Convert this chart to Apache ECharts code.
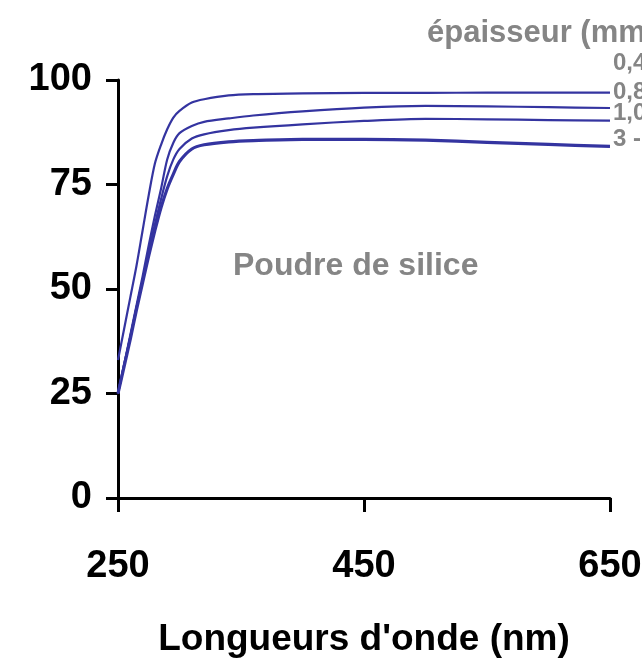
<!DOCTYPE html>
<html>
<head>
<meta charset="utf-8">
<script src="https://cdn.jsdelivr.net/npm/echarts@6/dist/echarts.min.js"></script>
<style>
  html, body { margin: 0; padding: 0; background: #fff; }
  #chart { width: 642px; height: 658px; }
</style>
</head>
<body>
<div id="chart"></div>
<script>
  // longueurs d'onde (nm)
  const wavelengths = [250, 255, 260, 265, 270, 275, 280, 285, 290, 295, 300, 310, 320, 340, 360, 400, 450, 500, 550, 600, 650];

  // réflectance (%) par épaisseur
  const ep04 = [33, 40.5, 48, 55.5, 64, 72.5, 80, 84.5, 88.2, 91, 92.6, 94.6, 95.4, 96.3, 96.6, 96.8, 96.9, 96.9, 97.0, 97.0, 97.0];
  const ep08 = [25, 32, 39, 46, 53, 60.5, 67.5, 74, 81, 85, 87.3, 89, 90, 90.8, 91.5, 92.5, 93.4, 93.8, 93.7, 93.5, 93.3];
  const ep10 = [25, 32, 38.5, 45.5, 52, 59, 65.5, 71.5, 77, 81, 83.5, 86, 87, 88, 88.6, 89.4, 90.2, 90.7, 90.6, 90.4, 90.3];
  const ep3 = [25, 31.5, 38, 45, 51.5, 58, 64, 69.5, 74, 77.5, 80.5, 83.5, 84.5, 85.2, 85.5, 85.8, 85.8, 85.6, 85.1, 84.6, 84.1];

  const seriesNames = ["0,4", "0,8", "1,0", "3 - 5"];
  const xTicks = [250, 450, 650];
  const yTicks = [0, 25, 50, 75, 100];

  const legendTitle = "épaisseur (mm)";
  const noteText = "Poudre de silice";
  const xTitle = "Longueurs d'onde (nm)";

  const lineColor = "#3434a0";
  const gray = "#858585";

  function pairs(values) {
    return wavelengths.map((w, i) => [w, values[i]]);
  }

  function lineSeries(name, values, width) {
    return {
      name: name,
      type: "line",
      data: pairs(values),
      smooth: 0.3,
      symbol: "none",
      lineStyle: { color: lineColor, width: width, join: "round" },
      z: 3,
    };
  }

  const chart = echarts.init(document.getElementById("chart"));

  chart.setOption({
    backgroundColor: "#fff",
    animation: false,
    grid: { left: 118, right: 32, top: 80, bottom: 160, outerBoundsMode: "none", containLabel: false },
    xAxis: {
      type: "value",
      min: 250,
      max: 650,
      interval: 200,
      name: xTitle,
      nameLocation: "middle",
      nameGap: 123,
      nameTextStyle: {
        fontFamily: "Liberation Sans, Arial, sans-serif",
        fontWeight: "bold",
        fontSize: 37,
        color: "#000",
      },
      axisLine: { lineStyle: { color: "#000", width: 3 } },
      axisTick: { length: 14, lineStyle: { color: "#000", width: 3 } },
      axisLabel: {
        margin: 50,
        fontFamily: "Liberation Sans, Arial, sans-serif",
        fontWeight: "bold",
        fontSize: 38,
        color: "#000",
        formatter: (v) => (xTicks.includes(v) ? String(v) : ""),
      },
      splitLine: { show: false },
    },
    yAxis: {
      type: "value",
      min: 0,
      max: 100,
      interval: 25,
      axisLine: { show: true, lineStyle: { color: "#000", width: 3 } },
      axisTick: { show: true, length: 12, lineStyle: { color: "#000", width: 3 } },
      axisLabel: {
        margin: 26,
        fontFamily: "Liberation Sans, Arial, sans-serif",
        fontWeight: "bold",
        fontSize: 38,
        color: "#000",
        formatter: (v) => (yTicks.includes(v) ? String(v) : ""),
      },
      splitLine: { show: false },
    },
    graphic: [
      {
        type: "text",
        left: 427,
        top: 18,
        style: {
          text: legendTitle,
          font: "bold 31px 'Liberation Sans', Arial, sans-serif",
          fill: gray,
        },
      },
      {
        type: "text",
        left: 233,
        top: 250,
        style: {
          text: noteText,
          font: "bold 32px 'Liberation Sans', Arial, sans-serif",
          fill: gray,
        },
      },
    ].concat(
      seriesNames.map((name, i) => ({
        type: "text",
        left: 613,
        top: [63, 92, 113, 139][i] - 12,
        style: {
          text: name,
          font: "bold 24px 'Liberation Sans', Arial, sans-serif",
          fill: gray,
        },
      }))
    ),
    series: [
      lineSeries(seriesNames[0], ep04, 2.2),
      lineSeries(seriesNames[1], ep08, 2.2),
      lineSeries(seriesNames[2], ep10, 2.2),
      lineSeries(seriesNames[3], ep3, 3.2),
    ],
  });
</script>
</body>
</html>
